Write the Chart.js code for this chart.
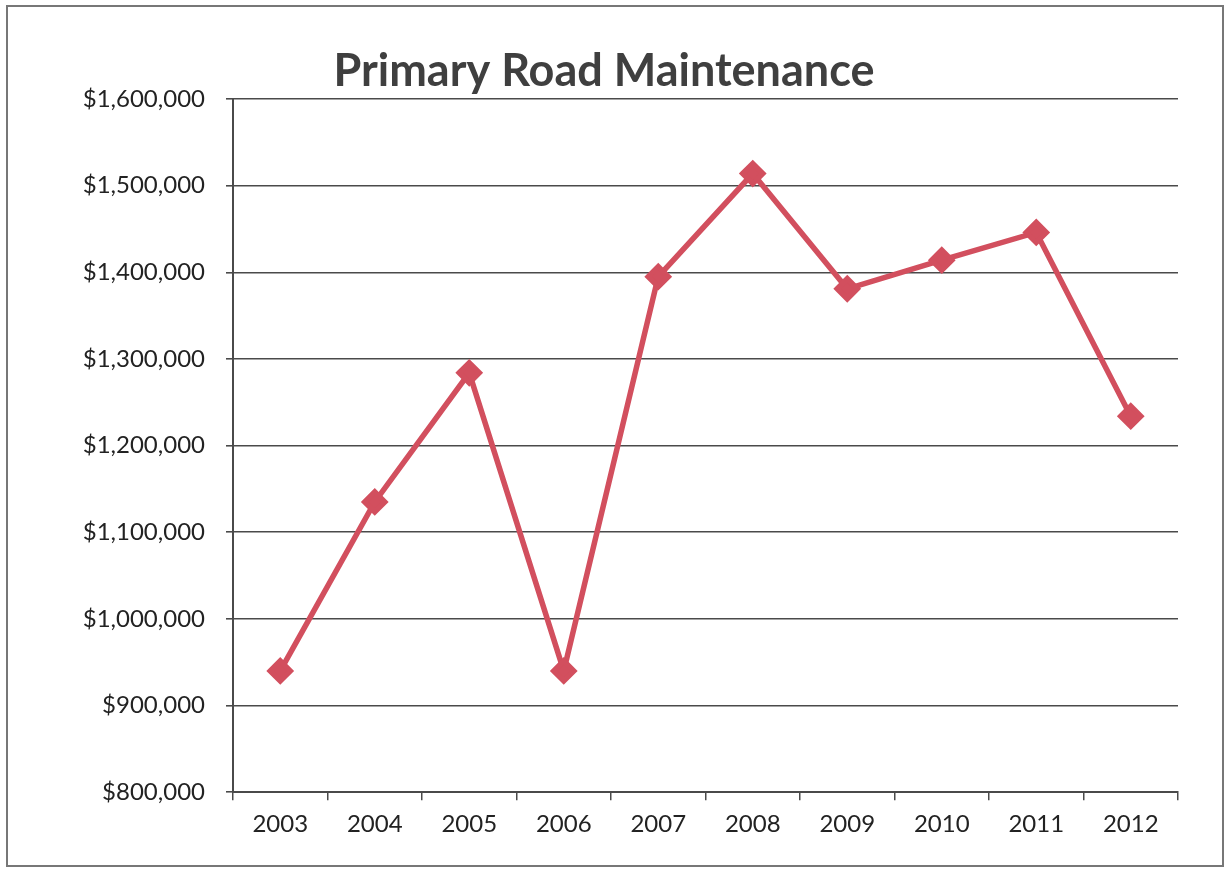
<!DOCTYPE html>
<html>
<head>
<meta charset="utf-8">
<script src="https://cdn.jsdelivr.net/npm/chart.js@4"></script>
<style>
html,body{margin:0;padding:0;background:#fff;}
#wrap{position:relative;width:1229px;height:873px;}
#frame{position:absolute;left:6px;top:5px;width:1218px;height:862px;border:2px solid #777;box-sizing:border-box;}
canvas{position:absolute;left:0;top:0;}
</style>
</head>
<body>
<div id="wrap">
<div id="frame"></div>
<canvas id="chart" width="1229" height="873"></canvas>
</div>
<script>
// values
const years=["2003","2004","2005","2006","2007","2008","2009","2010","2011","2012"];
const costs=[940000,1135000,1284000,940000,1395000,1514000,1381000,1414000,1446000,1234000];
const yMin=800000;
const yMax=1600000;
const yStep=100000;

const red="#d24f5e";
const gridCol="#4a4a4a";

let ctx=document.getElementById("chart");

new Chart(ctx,{
type:"line",
data:{
labels:years,
datasets:[{
label:"Primary Road Maintenance",
data:costs,
borderColor:red,
backgroundColor:red,
borderWidth:5.5,
pointStyle:"rectRot",
pointRadius:10,
pointHoverRadius:10,
tension:0,
fill:false
}]
},
options:{
responsive:false,
animation:false,
layout:{padding:{left:30,right:51,top:0,bottom:24}},
plugins:{
legend:{display:false},
tooltip:{enabled:false},
title:{
display:true,
text:"Primary Road Maintenance",
color:"#3f3f3f",
font:{family:"Lato",size:45,weight:"bold"},
padding:{top:44,bottom:1}
}
},
scales:{
x:{
offset:true,
grid:{display:true,offset:true,drawOnChartArea:false,drawTicks:true,tickLength:8,color:gridCol,lineWidth:1.5},
border:{display:true,color:gridCol,width:2},
ticks:{color:"#222",font:{family:"Lato",size:24},padding:10}
},
y:{
min:yMin,
max:yMax,
afterFit:s=>{s.width=203;},
grid:{color:gridCol,lineWidth:1.6,tickLength:7},
border:{display:true,color:gridCol,width:2},
ticks:{
stepSize:yStep,
color:"#222",
font:{family:"Lato",size:24},
padding:21,
callback:v=>"$"+v.toLocaleString("en-US")
}
}
}
}
});
</script>
</body>
</html>
